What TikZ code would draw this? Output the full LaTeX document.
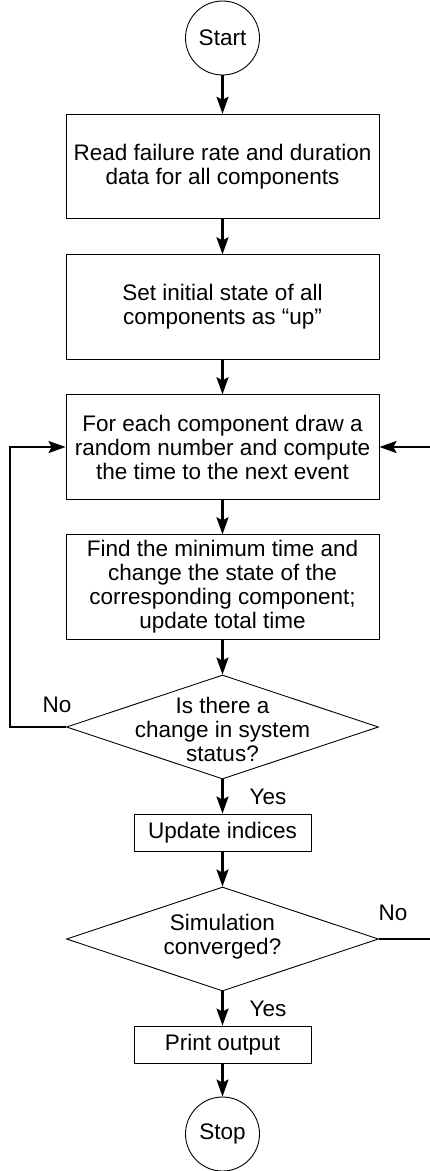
\documentclass[tikz,border=0pt]{standalone}
\usepackage{fontspec}
\setmainfont{Liberation Sans}
\usetikzlibrary{shapes.geometric,arrows.meta}
\begin{document}
\begin{tikzpicture}[x=1pt,y=-1pt,
  every node/.style={font=\fontsize{22.5}{24}\selectfont},
  box/.style={draw,line width=0.9pt,rectangle,inner sep=0pt,align=center},
  bigbox/.style={box,minimum width=313pt,minimum height=104.5pt},
  smallbox/.style={box,minimum width=177pt,minimum height=37pt},
  term/.style={draw,line width=0.9pt,circle,minimum size=74pt,inner sep=0pt},
  dec/.style={draw,line width=0.9pt,diamond,minimum width=312pt,minimum height=104pt,inner sep=0pt},
  dectext/.style={align=center},
  lab/.style={inner sep=0pt},
  arr/.style={line width=2.1pt,-{Stealth[length=17pt,width=12pt,inset=3pt]}}]
\useasboundingbox (0,0) rectangle (430,1171);
\node[term] (start) at (222.5,38) {Start};
\node[bigbox] (b1) at (222.5,166.5) {Read failure rate and duration\\data for all components};
\node[bigbox] (b2) at (222.5,307) {Set initial state of all\\components as “up”};
\node[bigbox] (b3) at (222.5,447) {For each component draw a\\random number and compute\\the time to the next event};
\node[bigbox] (b4) at (222.5,587) {Find the minimum time and\\change the state of the\\corresponding component;\\update total time};
\node[dec] (d1) at (222.5,727) {};
\node[dectext] (d1t) at (222.5,729) {Is there a\\change in system\\status?};
\node[smallbox] (b5) at (222.5,832.5) {Update indices};
\node[dec] (d2) at (222.5,939) {};
\node[dectext] (d2t) at (222.5,937) {Simulation\\converged?};
\node[smallbox] (b6) at (222.5,1044.5) {Print output};
\node[term] (stop) at (222.5,1134) {Stop};
\node[lab] (no1) at (57,705) {No};
\node[lab] (yes1) at (268,797) {Yes};
\node[lab] (no2) at (393,913) {No};
\node[lab] (yes2) at (268,1009) {Yes};
\coordinate (L) at (10,727);
\coordinate (R) at (431.5,939);
\draw[arr] (start) -- (b1);
\draw[arr] (b1) -- (b2);
\draw[arr] (b2) -- (b3);
\draw[arr] (b3) -- (b4);
\draw[arr] (b4) -- (d1);
\draw[arr] (d1) -- (b5);
\draw[arr] (b5) -- (d2);
\draw[arr] (d2) -- (b6);
\draw[arr] (b6) -- (stop);
\draw[arr] (d1.west) -- (L) |- (b3.west);
\draw[arr] (d2.east) -- (R) |- (b3.east);
\end{tikzpicture}
\end{document}
